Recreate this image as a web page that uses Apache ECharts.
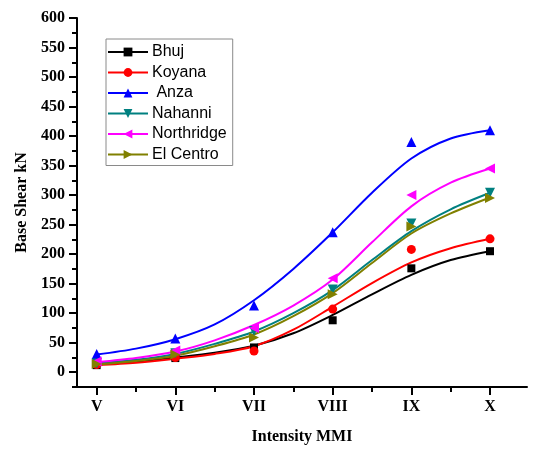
<!DOCTYPE html>
<html>
<head>
<meta charset="utf-8">
<script src="https://cdn.jsdelivr.net/npm/echarts@6/dist/echarts.min.js"></script>
<style>
html,body{margin:0;padding:0;background:#fff;}
#chart{width:534px;height:450px;}
</style>
</head>
<body>
<div id="chart"></div>
<script>
// Intensity levels (MMI) as numbers, with their roman labels
const intensity = [5, 6, 7, 8, 9, 10];
const intensityLabels = ['V', 'VI', 'VII', 'VIII', 'IX', 'X'];

// Measured base shear (kN) for each record
const bhuj       = [12, 24, 42, 88, 176, 205];
const koyana     = [13, 25, 36, 107, 208, 226];
const anza       = [31, 57, 113, 237, 390, 410];
const nahanni    = [15, 32, 70, 140, 252, 304];
const northridge = [18, 37, 75, 159, 300, 345];
const elCentro   = [14, 30, 59, 132, 247, 295];

// Fitted curves, sampled every half intensity step
const fitX = [5, 5.5, 6, 6.5, 7, 7.5, 8, 8.5, 9, 9.5, 10];
const bhujFit       = [13, 18, 25, 33, 45, 66, 97, 132, 165, 190, 205];
const koyanaFit     = [12, 16, 23, 31, 44, 72, 111, 151, 186, 210, 226];
const anzaFit       = [30, 40, 56, 81, 122, 175, 237, 304, 362, 396, 410];
const nahanniFit    = [15, 21, 31, 48, 69, 100, 139, 190, 239, 276, 304];
const northridgeFit = [17, 24, 35, 54, 80, 113, 157, 220, 281, 321, 345];
const elCentroFit   = [13, 19, 28, 44, 64, 95, 134, 185, 235, 269, 296];

const yTicks = [0, 50, 100, 150, 200, 250, 300, 350, 400, 450, 500, 550, 600];
const yMinorTicks = [-25, 25, 75, 125, 175, 225, 275, 325, 375, 425, 475, 525, 575];
const xMinorTicks = [5.5, 6.5, 7.5, 8.5, 9.5, 10.5];

const records = [
  { name: 'Bhuj',       pts: bhuj,       fit: bhujFit,       color: '#000000', symbol: 'rect',     size: 8 },
  { name: 'Koyana',     pts: koyana,     fit: koyanaFit,     color: '#ff0000', symbol: 'circle',   size: 9 },
  { name: ' Anza',      pts: anza,       fit: anzaFit,       color: '#0000ff', symbol: 'triangle', size: 10 },
  { name: 'Nahanni',    pts: nahanni,    fit: nahanniFit,    color: '#008080', symbol: 'path://M0,0 L10,0 L5,10 Z', size: 10 },
  { name: 'Northridge', pts: northridge, fit: northridgeFit, color: '#ff00ff', symbol: 'path://M10,0 L10,10 L0,5 Z', size: 10 },
  { name: 'El Centro',  pts: elCentro,   fit: elCentroFit,   color: '#808000', symbol: 'path://M0,0 L0,10 L10,5 Z', size: 10 }
];

const serifBold = { fontFamily: '"Liberation Serif", "Times New Roman", serif', fontWeight: 'bold', color: '#000' };
const gridBox = { left: 77, right: 7, top: 18, bottom: 63 };
const xMin = 4.75, xMax = 10.47, yMin = -25, yMax = 600;

const series = [];
records.forEach(r => {
  series.push({
    name: r.name, type: 'line', smooth: 0.3, showSymbol: false,
    symbol: r.symbol, symbolSize: r.size,
    data: fitX.map((x, i) => [x, r.fit[i]]),
    lineStyle: { color: r.color, width: 2 },
    itemStyle: { color: r.color },
    emphasis: { disabled: true }, z: 2
  });
  series.push({
    name: r.name, type: 'scatter',
    symbol: r.symbol, symbolSize: r.size,
    data: intensity.map((x, i) => [x, r.pts[i]]),
    itemStyle: { color: r.color, opacity: 1 },
    emphasis: { disabled: true }, z: 3
  });
});

const chart = echarts.init(document.getElementById('chart'), null, { renderer: 'canvas' });
chart.setOption({
  animation: false,
  backgroundColor: '#fff',
  grid: [Object.assign({}, gridBox), Object.assign({}, gridBox)],
  legend: {
    left: 106, top: 39, orient: 'vertical',
    data: records.map(r => r.name),
    itemWidth: 40, itemHeight: 11, itemGap: 4.5,
    padding: [5, 6, 3, 1],
    borderColor: '#8a8a8a', borderWidth: 1,
    backgroundColor: '#fff',
    textStyle: { fontFamily: '"Liberation Sans", Arial, sans-serif', fontSize: 16, color: '#000', padding: [0, 0, 0, -1] },
    selectedMode: false
  },
  xAxis: [{
    type: 'value', gridIndex: 0, min: xMin, max: xMax,
    name: 'Intensity MMI', nameLocation: 'middle', nameGap: 42,
    nameTextStyle: Object.assign({ fontSize: 16 }, serifBold),
    axisLine: { onZero: false, lineStyle: { color: '#000', width: 2 } },
    axisTick: { inside: false, length: 8, lineStyle: { color: '#000', width: 2 }, customValues: intensity },
    axisLabel: Object.assign({ fontSize: 16, margin: 12, customValues: intensity,
      formatter: v => intensityLabels[intensity.indexOf(Math.round(v))] || '' }, serifBold),
    splitLine: { show: false }
  }, {
    type: 'value', gridIndex: 1, min: xMin, max: xMax,
    axisLine: { show: false, onZero: false },
    axisTick: { length: 5, lineStyle: { color: '#000', width: 2 }, customValues: xMinorTicks },
    axisLabel: { show: false },
    splitLine: { show: false }
  }],
  yAxis: [{
    type: 'value', gridIndex: 0, min: yMin, max: yMax,
    name: 'Base Shear kN', nameLocation: 'middle', nameGap: 44,
    nameTextStyle: Object.assign({ fontSize: 16 }, serifBold),
    axisLine: { onZero: false, lineStyle: { color: '#000', width: 2 } },
    axisTick: { length: 8, lineStyle: { color: '#000', width: 2 }, customValues: yTicks },
    axisLabel: Object.assign({ fontSize: 16, margin: 12, customValues: yTicks }, serifBold),
    splitLine: { show: false }
  }, {
    type: 'value', gridIndex: 1, min: yMin, max: yMax,
    axisLine: { show: false, onZero: false },
    axisTick: { length: 5, lineStyle: { color: '#000', width: 2 }, customValues: yMinorTicks },
    axisLabel: { show: false },
    splitLine: { show: false }
  }],
  series: series
});
</script>
</body>
</html>
